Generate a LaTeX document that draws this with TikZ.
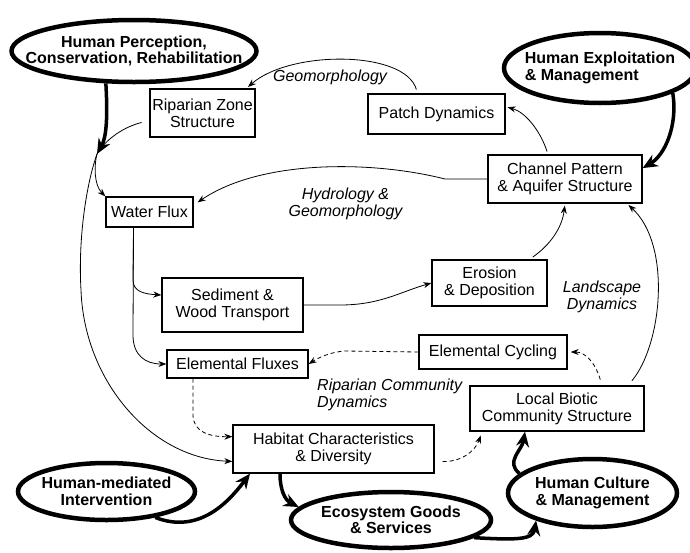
\documentclass[tikz,border=0pt]{standalone}
\usepackage{fontspec}
\setmainfont{Liberation Sans}
\usetikzlibrary{arrows.meta,shapes.geometric}
\begin{document}
\begin{tikzpicture}[x=1pt,y=-1pt,
  font=\fontsize{16}{17}\selectfont,
  box/.style={draw, line width=1.3pt, align=center, inner sep=0pt, rectangle},
  human/.style={draw, ellipse, line width=4.5pt, align=center, inner xsep=-60pt, inner ysep=-10pt, font=\fontsize{16}{16.5}\selectfont\bfseries},
  lbl/.style={font=\fontsize{16}{17}\selectfont\itshape, align=center, inner sep=0pt},
  thin/.style={line width=0.8pt, -{Stealth[length=8pt,width=6pt]}},
  dsh/.style={thin, dash pattern=on 4pt off 3pt},
  thick/.style={line width=3.5pt, -{Stealth[length=15pt,width=13pt]}},
]
\useasboundingbox (0,0) rectangle (690,552);

% boxes
\node[box, minimum width=105pt, minimum height=48pt] (rip) at (202.5,113) {Riparian Zone\\Structure};
\node[box, minimum width=137pt, minimum height=40pt] (patch) at (436.5,114) {Patch Dynamics};
\node[box, minimum width=154pt, minimum height=48pt] (chan) at (565,179) {Channel Pattern\\\& Aquifer Structure};
\node[box, minimum width=87pt, minimum height=30pt] (water) at (149.5,212) {Water Flux};
\node[box, minimum width=141pt, minimum height=54pt] (sed) at (232.5,305) {Sediment \&\\Wood Transport};
\node[box, minimum width=115pt, minimum height=46pt] (eros) at (489.5,283) {Erosion\\\& Deposition};
\node[box, minimum width=148pt, minimum height=34pt] (ecyc) at (493,352) {Elemental Cycling};
\node[box, minimum width=141pt, minimum height=28pt] (eflux) at (237.5,364) {Elemental Fluxes};
\node[box, minimum width=174pt, minimum height=45pt] (local) at (557,408.5) {Local Biotic\\Community Structure};
\node[box, minimum width=201pt, minimum height=48pt] (hab) at (333.5,449) {Habitat Characteristics\\\& Diversity};

% human ellipses
\node[human, minimum width=245pt, minimum height=62pt] (hp) at (134,51) {Human Perception,\\Conservation, Rehabilitation};
\node[human, minimum width=192pt, minimum height=70pt, align=left] (hx) at (600,68) {Human Exploitation\\\& Management};
\node[human, minimum width=177pt, minimum height=57pt] (hm) at (106.5,491.5) {Human-mediated\\Intervention};
\node[human, minimum width=200pt, minimum height=56pt] (eco) at (391,520) {Ecosystem Goods\\\& Services};
\node[human, minimum width=169pt, minimum height=68pt] (hc) at (592.5,493) {Human Culture\\\& Management};

% italic labels
\node[lbl] (lgeo) at (330,77) {Geomorphology};
\node[lbl] (lhyd) at (345.5,203.5) {Hydrology \&\\Geomorphology};
\node[lbl] (lland) at (602,297) {Landscape\\Dynamics};
\node[lbl, align=left, anchor=west] (lrip) at (317,394.5) {Riparian Community\\Dynamics};

% junction
\coordinate (j) at (97,154);

% thin connectors
\draw[line width=0.8pt, shorten <=8pt] (rip.188) .. controls (120,128) and (104,142) .. (j);
\draw[thin] (j) .. controls (94,165) and (94,185) .. (water.north west);
\draw[thin] (j) .. controls (86,185) and (78,240) .. (81,290) .. controls (84,380) and (150,458) .. (hab.187);
\draw[thin] ([xshift=-16pt]water.south) -- (133,280) .. controls (133,292) and (145,294) .. (sed.172);
\draw[thin] ([xshift=-16pt]water.south) -- (133,335) .. controls (133,355) and (145,364) .. (eflux.west);
\draw[thin] (sed.east) -- (340,305) .. controls (380,305) and (400,292) .. (eros.west);
\draw[thin, shorten <=4pt, shorten >=2pt] ([xshift=40pt]eros.north) .. controls (550,245) and (562,228) .. (chan.south);
\draw[thin, shorten <=6pt, shorten >=2pt] ([xshift=71pt]local.north) .. controls (662,345) and (672,245) .. ([xshift=62pt]chan.south);
\draw[thin, shorten <=3pt, shorten >=2pt] ([xshift=-17pt]chan.north) .. controls (540,130) and (525,112) .. (patch.6);
\draw[thin, shorten <=4pt, shorten >=2pt] ([xshift=-19pt]patch.north) .. controls (405,50) and (290,50) .. ([xshift=44pt]rip.north);
\draw[thin] (chan.west) -- (445,179) .. controls (370,160) and (260,160) .. ([xshift=4pt,yshift=-6pt]water.north east);
\draw[dsh] (ecyc.west) -- (345,351) .. controls (330,352) and (318,358) .. (eflux.east);
\draw[dsh, shorten <=6pt, shorten >=3pt] ([xshift=45pt]local.north) .. controls (595,362) and (585,352) .. (ecyc.east);
\draw[dsh] ([xshift=-44.5pt]eflux.south) -- (193,415) .. controls (193,432) and (210,437) .. (hab.173);
\draw[dsh, shorten <=8pt, shorten >=4pt] (hab.-7) .. controls (460,462) and (475,452) .. ([xshift=-75pt]local.south);

% thick connectors
\draw[thick] (hp.229) .. controls (108,120) and (106,138) .. (j);
\draw[thick] (hx.-19) .. controls (678,125) and (665,155) .. (chan.8);
\draw[thick] (hm.-28) .. controls (200,535) and (230,500) .. ([xshift=-83.5pt]hab.south);
\draw[thick] ([xshift=-53.5pt]hab.south) .. controls (280,490) and (285,500) .. (eco.172);
\draw[thick] (eco.-12) .. controls (515,540) and (533,540) .. (hc.206);
\draw[thick] (hc.165) .. controls (505,462) and (522,450) .. ([xshift=-32pt]local.south);
\end{tikzpicture}
\end{document}
